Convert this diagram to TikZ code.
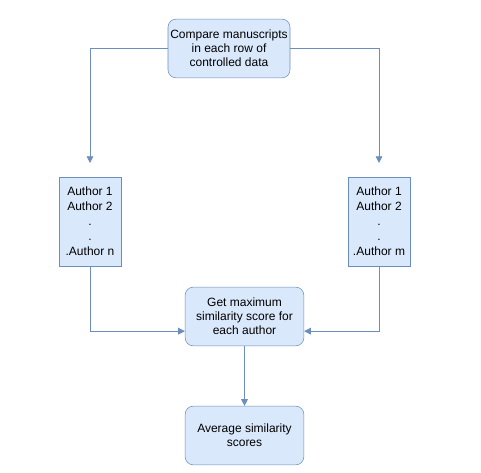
\documentclass[tikz,border=0pt]{standalone}
\usepackage{fontspec}
\setmainfont{Liberation Sans}
\usetikzlibrary{arrows.meta}
\definecolor{boxfill}{HTML}{DAE8FC}
\definecolor{boxline}{HTML}{6C8EBF}
\tikzset{
  stepbox/.style={draw=boxline, fill=boxfill, rounded corners=6pt, align=center,
    font=\fontsize{9}{10.5}\selectfont, inner sep=0pt},
  listbox/.style={draw=boxline, fill=boxfill, align=center,
    font=\fontsize{9}{11.25}\selectfont, inner sep=0pt},
  flow/.style={draw=boxline, line width=0.6pt, -{Triangle[width=5pt,length=5pt]}}
}
\begin{document}
\begin{tikzpicture}[x=0.75pt,y=-0.75pt]
      \useasboundingbox (0,0) rectangle (481,473);
      \node[stepbox, minimum width=91.5pt, minimum height=44pt] (compare) at (229,48.5)
        {Compare manuscripts\\in each row of\\controlled data};
      \node[listbox, minimum width=46.5pt, minimum height=67pt] (left) at (90,221.5)
        {Author 1\\Author 2\\.\\.\\.Author n};
      \node[listbox, minimum width=46.5pt, minimum height=67pt] (right) at (379,221.5)
        {Author 1\\Author 2\\.\\.\\.Author m};
      \node[stepbox, minimum width=89pt, minimum height=44pt] (maxsim) at (244.5,316.5)
        {Get maximum\\similarity score for\\each author};
      \node[stepbox, minimum width=89pt, minimum height=44pt] (average) at (244.5,435.5)
        {Average similarity\\scores};
      \coordinate (lefttip) at (90,163);
      \coordinate (righttip) at (379,163);
      \begin{scope}[flow]
        \draw (compare.west) -| (lefttip);
        \draw (compare.east) -| (righttip);
        \draw (left.south) |- ([yshift=-11pt]maxsim.west);
        \draw (right.south) |- ([yshift=-11pt]maxsim.east);
        \draw (maxsim) -- (average);
      \end{scope}
    \end{tikzpicture}
\end{document}
